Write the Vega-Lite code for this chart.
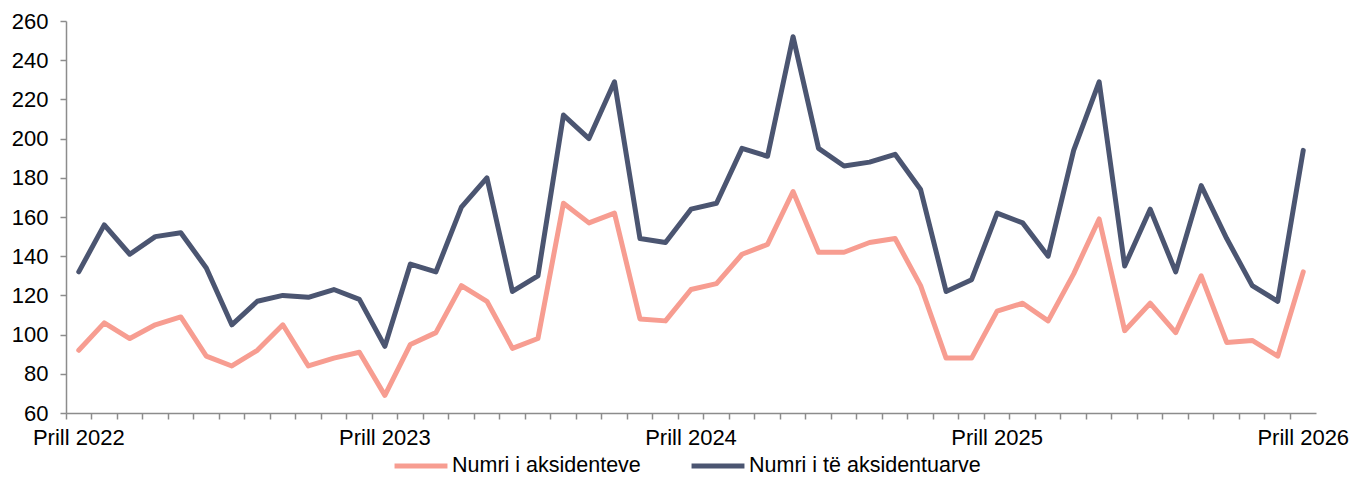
{
  "$schema": "https://vega.github.io/schema/vega-lite/v6.json",
  "width": 1250,
  "height": 392,
  "autosize": {"type": "none"},
  "padding": {"left": 66, "top": 21, "right": 34, "bottom": 64},
  "background": "white",
  "config": {
    "view": {"stroke": null},
    "font": "Liberation Sans",
    "axis": {"labelFont": "Liberation Sans", "labelFontSize": 22, "labelColor": "#000000", "domainColor": "#8c8c8c", "tickColor": "#8c8c8c", "domainWidth": 1.5, "tickWidth": 1.5, "grid": false, "title": null}
  },
  "data": {
    "values": [
      {"m": "2022-04", "a": 92, "t": 132},
      {"m": "2022-05", "a": 106, "t": 156},
      {"m": "2022-06", "a": 98, "t": 141},
      {"m": "2022-07", "a": 105, "t": 150},
      {"m": "2022-08", "a": 109, "t": 152},
      {"m": "2022-09", "a": 89, "t": 134},
      {"m": "2022-10", "a": 84, "t": 105},
      {"m": "2022-11", "a": 92, "t": 117},
      {"m": "2022-12", "a": 105, "t": 120},
      {"m": "2023-01", "a": 84, "t": 119},
      {"m": "2023-02", "a": 88, "t": 123},
      {"m": "2023-03", "a": 91, "t": 118},
      {"m": "2023-04", "a": 69, "t": 94},
      {"m": "2023-05", "a": 95, "t": 136},
      {"m": "2023-06", "a": 101, "t": 132},
      {"m": "2023-07", "a": 125, "t": 165},
      {"m": "2023-08", "a": 117, "t": 180},
      {"m": "2023-09", "a": 93, "t": 122},
      {"m": "2023-10", "a": 98, "t": 130},
      {"m": "2023-11", "a": 167, "t": 212},
      {"m": "2023-12", "a": 157, "t": 200},
      {"m": "2024-01", "a": 162, "t": 229},
      {"m": "2024-02", "a": 108, "t": 149},
      {"m": "2024-03", "a": 107, "t": 147},
      {"m": "2024-04", "a": 123, "t": 164},
      {"m": "2024-05", "a": 126, "t": 167},
      {"m": "2024-06", "a": 141, "t": 195},
      {"m": "2024-07", "a": 146, "t": 191},
      {"m": "2024-08", "a": 173, "t": 252},
      {"m": "2024-09", "a": 142, "t": 195},
      {"m": "2024-10", "a": 142, "t": 186},
      {"m": "2024-11", "a": 147, "t": 188},
      {"m": "2024-12", "a": 149, "t": 192},
      {"m": "2025-01", "a": 125, "t": 174},
      {"m": "2025-02", "a": 88, "t": 122},
      {"m": "2025-03", "a": 88, "t": 128},
      {"m": "2025-04", "a": 112, "t": 162},
      {"m": "2025-05", "a": 116, "t": 157},
      {"m": "2025-06", "a": 107, "t": 140},
      {"m": "2025-07", "a": 131, "t": 194},
      {"m": "2025-08", "a": 159, "t": 229},
      {"m": "2025-09", "a": 102, "t": 135},
      {"m": "2025-10", "a": 116, "t": 164},
      {"m": "2025-11", "a": 101, "t": 132},
      {"m": "2025-12", "a": 130, "t": 176},
      {"m": "2026-01", "a": 96, "t": 149},
      {"m": "2026-02", "a": 97, "t": 125},
      {"m": "2026-03", "a": 89, "t": 117},
      {"m": "2026-04", "a": 132, "t": 194}
    ]
  },
  "transform": [
    {"fold": ["t", "a"], "as": ["key", "value"]},
    {"lookup": "key", "from": {"data": {"values": [{"key": "a", "series": "Numri i aksidenteve"}, {"key": "t", "series": "Numri i të aksidentuarve"}]}, "key": "key", "fields": ["series"]}}
  ],
  "mark": {"type": "line", "strokeWidth": 5, "strokeJoin": "round", "strokeCap": "round"},
  "encoding": {
    "x": {
      "field": "m",
      "type": "ordinal",
      "bandPosition": 0.5,
      "scale": {"type": "band", "paddingInner": 0, "paddingOuter": 0},
      "axis": {
        "bandPosition": 0,
        "tickSize": 6,
        "labelPadding": 8,
        "labelAngle": 0,
        "labelOverlap": false,
        "labelBound": false,
        "labelFlush": false,
        "labelExpr": "slice(datum.value, 5) == '04' ? 'Prill ' + slice(datum.value, 0, 4) : ''"
      }
    },
    "y": {
      "field": "value",
      "type": "quantitative",
      "scale": {"domain": [60, 260], "nice": false, "zero": false},
      "axis": {"values": [60, 80, 100, 120, 140, 160, 180, 200, 220, 240, 260], "tickSize": 6, "labelPadding": 12}
    },
    "color": {
      "field": "series",
      "type": "nominal",
      "scale": {"domain": ["Numri i aksidenteve", "Numri i të aksidentuarve"], "range": ["#F79D91", "#4B5571"]},
      "legend": {
        "title": null,
        "orient": "none",
        "direction": "horizontal",
        "legendX": 326,
        "legendY": 432,
        "clipHeight": 26,
        "symbolType": "stroke",
        "symbolSize": 2800,
        "symbolStrokeWidth": 5,
        "labelFontSize": 21.5,
        "labelFont": "Liberation Sans",
        "labelColor": "#000000",
        "labelOffset": 2,
        "labelLimit": 500,
        "columnPadding": 48
      }
    },
    "order": {"field": "key", "sort": "descending"}
  }
}
